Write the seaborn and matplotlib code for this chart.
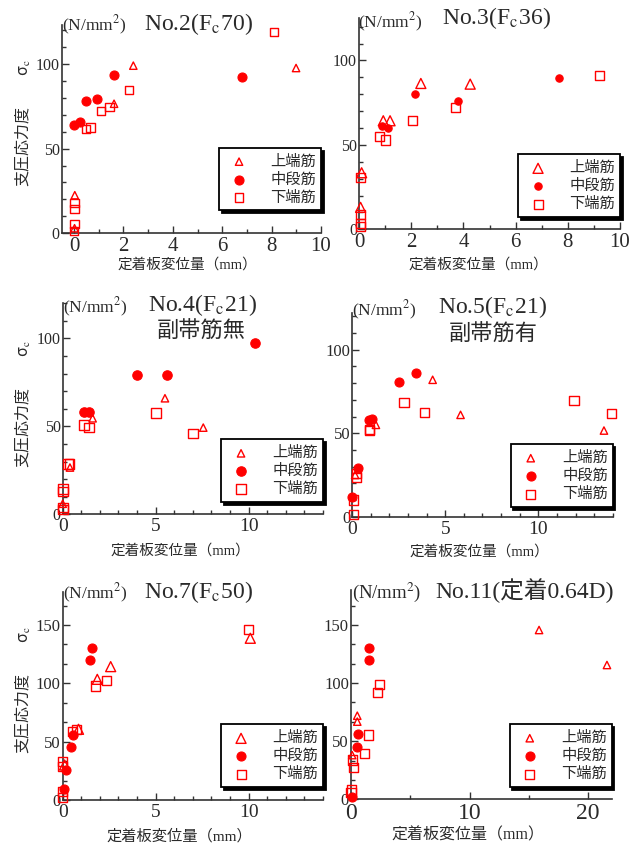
import matplotlib
matplotlib.use("Agg")
import matplotlib.pyplot as plt
import seaborn as sns
from matplotlib.ticker import MultipleLocator

# ---------------- data ----------------
labels = ["上端筋", "中段筋", "下端筋"]

# No.2 (Fc70)
no2_top_x = [0.02, 0.03, 1.62, 2.40, 8.99]
no2_top_y = [3.0, 22.5, 76.5, 99.0, 97.6]
no2_mid_x = [0.0, 0.23, 0.50, 0.94, 1.62, 6.82]
no2_mid_y = [64.1, 66.0, 78.3, 79.5, 93.5, 92.3]
no2_bot_x = [0.0, 0.02, 0.02, 0.02, 0.48, 0.67, 1.08, 1.44, 2.22, 8.10]
no2_bot_y = [1.5, 5.3, 14.5, 17.8, 61.7, 62.5, 72.4, 74.6, 84.8, 118.9]

# No.3 (Fc36)
no3_top_x = [0.06, 0.10, 0.93, 1.19, 2.37, 4.26]
no3_top_y = [13.0, 33.5, 64.3, 64.3, 86.4, 86.0]
no3_mid_x = [0.87, 1.12, 2.14, 3.78, 7.66]
no3_mid_y = [61.3, 60.2, 79.9, 76.1, 89.5]
no3_bot_x = [0.04, 0.04, 0.04, 0.04, 0.80, 1.02, 2.05, 3.71, 9.23]
no3_bot_y = [1.5, 3.5, 8.5, 30.6, 55.2, 52.9, 64.3, 72.0, 90.9]

# No.4 (Fc21) 副帯筋無
no4_top_x = [0.0, 0.39, 1.61, 5.50, 7.56]
no4_top_y = [6.0, 26.6, 54.6, 66.0, 49.3]
no4_mid_x = [1.13, 1.40, 4.00, 5.61, 10.34]
no4_mid_y = [58.0, 58.0, 79.3, 79.3, 97.3]
no4_bot_x = [0.0, 0.0, 0.0, 0.0, 0.27, 0.36, 1.16, 1.40, 5.02, 6.99]
no4_bot_y = [2.8, 3.8, 12.9, 14.2, 28.5, 28.5, 50.7, 49.3, 57.5, 46.0]

# No.5 (Fc21) 副帯筋有
no5_top_x = [0.15, 1.27, 4.32, 5.82, 13.53]
no5_top_y = [25.0, 55.0, 82.0, 61.0, 51.6]
no5_mid_x = [0.0, 0.29, 0.91, 1.08, 2.51, 3.42]
no5_mid_y = [11.6, 29.0, 58.0, 58.4, 80.4, 86.0]
no5_bot_x = [0.05, 0.05, 0.20, 0.20, 0.91, 0.91, 2.78, 3.90, 11.92, 13.94]
no5_bot_y = [1.4, 10.0, 23.6, 26.0, 51.6, 52.4, 68.4, 62.4, 69.6, 62.0]

# No.7 (Fc50)
no7_top_x = [0.10, 0.85, 1.86, 2.58, 10.09]
no7_top_y = [30.0, 60.6, 103.4, 114.3, 138.6]
no7_mid_x = [0.09, 0.18, 0.45, 0.54, 1.48, 1.57]
no7_mid_y = [9.4, 25.7, 45.7, 55.7, 120.0, 130.6]
no7_bot_x = [0.0, 0.0, 0.0, 0.0, 0.54, 0.76, 1.77, 2.34, 10.0]
no7_bot_y = [2.3, 7.0, 28.6, 32.9, 58.6, 60.6, 97.7, 102.0, 145.7]

# No.11 (定着0.64D)
no11_top_x = [0.10, 0.53, 0.53, 15.87, 21.6]
no11_top_y = [38.0, 66.8, 71.9, 145.6, 115.5]
no11_mid_x = [0.05, 0.53, 0.56, 1.55, 1.55]
no11_mid_y = [2.3, 45.3, 55.9, 119.8, 130.4]
no11_bot_x = [0.0, 0.05, 0.10, 0.20, 1.10, 1.46, 2.25, 2.39]
no11_bot_y = [5.7, 8.0, 33.8, 27.2, 39.5, 55.3, 92.0, 99.1]

titles = ["No.2(F$_{\\rm c}$70)", "No.3(F$_{\\rm c}$36)", "No.4(F$_{\\rm c}$21)",
          "No.5(F$_{\\rm c}$21)", "No.7(F$_{\\rm c}$50)", "No.11(定着0.64D)"]
subtitles = [None, None, "副帯筋無", "副帯筋有", None, None]

# ---------------- style ----------------
sns.set_theme(style="ticks")
plt.rcParams['font.family'] = ['Liberation Serif', 'Noto Sans CJK JP']
plt.rcParams['mathtext.fontset'] = 'stix'
plt.rcParams['axes.unicode_minus'] = False

W, H = 632, 848
fig = plt.figure(figsize=(W / 100, H / 100), dpi=100)
fig.patch.set_facecolor('white')

RED = '#ff0000'
TXT = '#2a2a2a'
CJK = ['Noto Sans CJK JP', 'DejaVu Sans']

panels = [
    dict(data=[(no2_top_x, no2_top_y), (no2_mid_x, no2_mid_y), (no2_bot_x, no2_bot_y)],
         box=(61.7, 321, 25, 233.3), xlim=(-0.5, 10), ylim=(0, 123), xmaj=2, xmin=1, ymin=10,
         sizes=(5.3, 6.5, 6.0), xt=15, yt=11.5, unit=(62, 25), title=(198, 24), sub=None,
         leg=0.11, xl=(187, 265, 10.5), yl=(23, 123)),
    dict(data=[(no3_top_x, no3_top_y), (no3_mid_x, no3_mid_y), (no3_bot_x, no3_bot_y)],
         box=(359, 620, 18.3, 229.3), xlim=(0, 10), ylim=(0, 125), xmaj=2, xmin=1, ymin=10,
         sizes=(7.2, 5.3, 6.5), xt=15, yt=11.5, unit=(358, 22), title=(496, 18), sub=None,
         leg=0.058, xl=(478, 265, 10.5), yl=None),
    dict(data=[(no4_top_x, no4_top_y), (no4_mid_x, no4_mid_y), (no4_bot_x, no4_bot_y)],
         box=(62.7, 323, 303.3, 514.3), xlim=(0, 14), ylim=(0, 120), xmaj=5, xmin=1, ymin=10,
         sizes=(5.3, 6.8, 7.0), xt=14, yt=11.5, unit=(63, 307), title=(202, 305), sub=(201, 331),
         leg=0.058, xl=(180, 551, 10.5), yl=(23, 404)),
    dict(data=[(no5_top_x, no5_top_y), (no5_mid_x, no5_mid_y), (no5_bot_x, no5_bot_y)],
         box=(352.3, 612.7, 313, 516.7), xlim=(0, 14), ylim=(0, 122), xmaj=5, xmin=1, ymin=10,
         sizes=(5.3, 6.5, 6.5), xt=14, yt=12, unit=(352, 310), title=(492, 307), sub=(493, 334),
         leg=0.048, xl=(479, 552, 10.5), yl=None),
    dict(data=[(no7_top_x, no7_top_y), (no7_mid_x, no7_mid_y), (no7_bot_x, no7_bot_y)],
         box=(62.7, 323, 591.7, 800), xlim=(0, 14), ylim=(0, 178.5), xmaj=5, xmin=1, ymin=50 / 3,
         sizes=(7.2, 6.5, 6.5), xt=14, yt=12, unit=(63, 593), title=(198, 592), sub=None,
         leg=0.062, xl=(179, 836, 11), yl=(23, 690)),
    dict(data=[(no11_top_x, no11_top_y), (no11_mid_x, no11_mid_y), (no11_bot_x, no11_bot_y)],
         box=(351, 611.7, 590, 799.3), xlim=(0, 22), ylim=(0, 180), xmaj=10, xmin=5, ymin=50 / 3,
         sizes=(5.3, 6.5, 6.5), xt=17, yt=12, unit=(352, 592), title=(525, 591), sub=None,
         leg=0.059, xl=(468, 835, 11.5), yl=None),
]

markers = ['^', 'o', 's']
filled = [False, True, False]

for i, p in enumerate(panels):
    l, r, t, b = p['box']
    ax = fig.add_axes([l / W, 1 - b / H, (r - l) / W, (b - t) / H])
    ax.set_facecolor('white')
    for k, ((xs, ys), m, f, ms) in enumerate(zip(p['data'], markers, filled, p['sizes'])):
        if f:
            sns.scatterplot(x=xs, y=ys, ax=ax, marker=m, s=ms ** 2, color=RED,
                            edgecolor=RED, linewidth=0.8, label=labels[k], clip_on=False, zorder=3)
        else:
            sns.scatterplot(x=xs, y=ys, ax=ax, marker=m, s=ms ** 2, color='none',
                            edgecolor=RED, linewidth=1.0, label=labels[k], clip_on=False, zorder=3)
    ax.set_xlim(*p['xlim'])
    ax.set_ylim(*p['ylim'])
    ax.xaxis.set_major_locator(MultipleLocator(p['xmaj']))
    ax.xaxis.set_minor_locator(MultipleLocator(p['xmin']))
    ax.yaxis.set_major_locator(MultipleLocator(50))
    ax.yaxis.set_minor_locator(MultipleLocator(p['ymin']))
    for s in ['top', 'right']:
        ax.spines[s].set_visible(False)
    for s in ['left', 'bottom']:
        ax.spines[s].set_linewidth(1.2)
        ax.spines[s].set_color('#333333')
    ax.tick_params(which='major', direction='in', length=4.8, width=1.0, color='#333333')
    ax.tick_params(which='minor', direction='in', length=3.0, width=1.0, color='#333333')
    ax.tick_params(axis='x', which='major', labelsize=p['xt'], pad=3, labelcolor=TXT)
    ax.tick_params(axis='y', which='major', labelsize=p['yt'], pad=1.5, labelcolor=TXT)

    # x label
    xlx, xly, xfs = p['xl']
    ax.set_xlabel("定着板変位量（mm）", fontsize=xfs, color=TXT, va='center')
    ax.xaxis.set_label_coords((xlx - l) / (r - l), (b - xly) / (b - t))
    # y label
    if p['yl'] is not None:
        ylx, yly = p['yl']
        ax.set_ylabel("支圧応力度　　σ$_{\\rm c}$", fontsize=11.5, color=TXT,
                      family=CJK, va='center')
        ax.yaxis.set_label_coords((ylx - l) / (r - l), (b - yly) / (b - t))
    else:
        ax.set_ylabel("")

    # legend
    leg = ax.legend(loc='lower right', bbox_to_anchor=(1.0, p['leg']), borderaxespad=0,
                    prop={'family': CJK, 'size': 11}, frameon=True, fancybox=False,
                    framealpha=1, edgecolor='black', borderpad=0.32, handlelength=2.0,
                    handletextpad=1.05, labelspacing=0.06,
                    shadow={'color': 'black', 'alpha': 1.0})
    leg.get_frame().set_linewidth(1.3)
    for txt in leg.get_texts():
        txt.set_color(TXT)

    # unit / titles
    ux, uy = p['unit']
    fig.text(ux / W, 1 - uy / H, "(N/mm$^2$)", fontsize=12.5 if i < 5 else 13.5,
             ha='left', va='center', color=TXT)
    tx, ty = p['title']
    fig.text(tx / W, 1 - ty / H, titles[i], fontsize=17, ha='center', va='center', color=TXT)
    if p['sub'] is not None:
        sx, sy = p['sub']
        fig.text(sx / W, 1 - sy / H, subtitles[i], fontsize=16, ha='center', va='center',
                 color=TXT, family=CJK)

fig.savefig("out.png", dpi=100, facecolor='white')
